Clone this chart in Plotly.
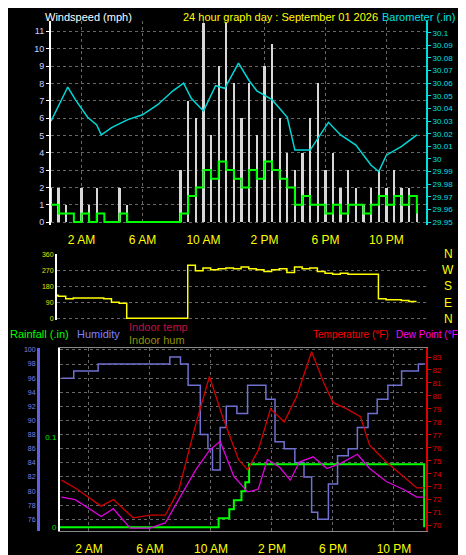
import plotly.graph_objects as go

W, H = 466, 555
def fx(p): return p / W
def fy(p): return 1 - p / H

hours = [i * 0.5 for i in range(49)]
gust = [2,2,1,0,2,1,2,0,0,2,1,0,0,0,0,0,0,3,7,6,11.5,5,9,11.5,8,6,8,5,9,10.3,6,4,3,4,6,8,3,4,2,3,2,1,2,3,2,3,2,2,1]
avg = [1,0.5,0.5,0,0.5,0,0.5,0,0,0.5,0,0,0,0,0,0,0,0.5,1.5,2,3,2.5,3.5,3,2.5,2,3,2.5,3.5,3,2.5,2,1,1.5,1,1,0.5,1,0.5,1,1,0.5,1,1.5,1,1.5,1,1.5,0.5]
direction = [130,125,110,115,115,115,115,110,90,85,0,0,0,0,0,0,0,0,300,270,285,275,280,285,280,290,280,275,265,275,280,260,290,280,285,265,255,250,255,250,250,250,250,110,105,105,100,95,95]

baro_h = [0,1.1,1.6,2.4,3,3.3,4,5,6,7,8,8.7,9.2,10,10.8,11.4,12.3,13,13.5,14.5,15.5,16,17,18.2,19,20,21,21.5,22,23,24]
baro_v = [30.03,30.057,30.047,30.033,30.027,30.019,30.025,30.031,30.035,30.043,30.054,30.06,30.048,30.038,30.058,30.056,30.076,30.062,30.054,30.047,30.033,30.007,30.007,30.029,30.019,30.011,29.995,29.99,30.003,30.01,30.019]

hum_h = [0.2,1,2.6,4,5.5,7.3,8.0,8.5,9.3,9.8,10.1,10.6,11,11.7,12.4,13,13.6,14.2,14.8,15.5,16.1,16.6,17,17.7,18.3,19,19.6,20.3,20.9,21.6,22.5,23.6,24.05]
hum_v = [96,97,98,98,98,99,98,95,88,86,83,89,92,91,95,95,93,87,86,84,82,77,76,81,85,86,89,91,93,95,97,98,98]

temp_h = [0.2,1.1,2.8,3.6,4.9,6,7,7.9,9,9.9,10.7,11.8,12.4,13.1,13.9,14.8,15.6,16.6,17.4,18,18.9,19.8,20.4,21.5,22.6,23.5,24.0]
temp_v = [73.5,72.9,71.5,72.0,70.6,70.8,70.8,72.8,77.8,81.5,78.6,75.1,74.3,75.8,79.0,78.0,79.9,83.4,81.0,79.5,79.0,78.4,76.2,74.9,73.8,72.9,72.9]

dew_h = [0.2,1.1,2.8,3.6,4.7,6,7,7.9,9,9.9,10.6,11.5,12.4,13.1,13.7,14.5,15.2,15.8,16.7,17.6,18.5,19.6,20.4,21.5,22.6,23.5,24.0]
dew_v = [72.2,72.0,70.7,71.3,69.8,69.8,70.2,72.0,74.3,75.8,76.5,73.8,72.6,72.8,75.1,74.5,73.5,74.9,75.3,74.4,74.8,75.5,74.4,73.4,72.8,72.2,72.2]

rain_h = [0.1,10.5,11.2,11.5,12.0,12.25,12.5,23.97,23.98]
rain_v = [0,0.01,0.02,0.03,0.04,0.05,0.07,0.07,0]

tickv = [2,6,10,14,18,22]
tickt = ['2 AM','6 AM','10 AM','2 PM','6 PM','10 PM']
compass = ['N','W','S','E','N']

FONT = 'Liberation Sans'
fig = go.Figure()
fig.add_trace(go.Bar(x=hours, y=gust, width=0.15, marker=dict(color='#d8d8d8', line_width=0), xaxis='x', yaxis='y'))
fig.add_trace(go.Scatter(x=hours, y=avg, mode='lines', line=dict(color='#00ff00', width=2), line_shape='hv', xaxis='x', yaxis='y'))
fig.add_trace(go.Scatter(x=baro_h, y=baro_v, mode='lines', line=dict(color='#00d8d8', width=1.5), xaxis='x', yaxis='y2'))
fig.add_trace(go.Scatter(x=hours, y=direction, mode='lines', line=dict(color='#ffff00', width=1.5), line_shape='hv', xaxis='x2', yaxis='y3'))
fig.add_trace(go.Scatter(x=rain_h, y=rain_v, mode='lines', line=dict(color='#00ff00', width=2), line_shape='hv', xaxis='x3', yaxis='y6'))
fig.add_trace(go.Scatter(x=hum_h, y=hum_v, mode='lines', line=dict(color='#7070d0', width=1.5), line_shape='hv', xaxis='x3', yaxis='y5'))
fig.add_trace(go.Scatter(x=temp_h, y=temp_v, mode='lines', line=dict(color='#d00000', width=1.3), xaxis='x3', yaxis='y7'))
fig.add_trace(go.Scatter(x=dew_h, y=dew_v, mode='lines', line=dict(color='#e000e0', width=1.3), xaxis='x3', yaxis='y7'))

grid = dict(showgrid=True, gridcolor='#666', griddash='dot', gridwidth=1, zeroline=False)
fig.update_layout(
    width=W, height=H, margin=dict(l=0, r=0, t=0, b=0),
    paper_bgcolor='black', plot_bgcolor='black', showlegend=False, bargap=0,
    font=dict(family=FONT, color='white'),
    xaxis=dict(domain=[fx(43), fx(418)], range=[0, 24.6], tickvals=tickv, ticktext=tickt,
               tickfont=dict(color='#ffff00', size=12), anchor='y', ticks='', ticklabelstandoff=6, **grid),
    yaxis=dict(domain=[fy(216), fy(10)], range=[-0.17, 11.6], dtick=1, tickfont=dict(color='#d0d0ff', size=9),
               showline=True, linecolor='white', linewidth=2, ticks='outside', ticklen=3, tickcolor='white', anchor='x', **grid),
    yaxis2=dict(overlaying='y', side='right', anchor='x', range=[29.9476, 30.1094], dtick=0.01,
                tickfont=dict(color='#00e0e0', size=8), showline=True, linecolor='#00e0e0', linewidth=2,
                ticks='outside', ticklen=3, tickcolor='#00e0e0', showgrid=False, tickformat='.2~f'),
    xaxis2=dict(domain=[fx(49), fx(418)], range=[0.43, 24.62], showticklabels=False, showgrid=False, anchor='y3', zeroline=False),
    yaxis3=dict(domain=[fy(312), fy(245)], range=[-11.25, 365.6], tickvals=[0,90,180,270,360],
                tickfont=dict(color='#e0e000', size=7), showline=True, linecolor='white', linewidth=2, anchor='x2', **grid),
    xaxis3=dict(domain=[fx(52), fx(418)], range=[0.1, 24.1], tickvals=tickv, ticktext=tickt,
                tickfont=dict(color='#ffff00', size=12), anchor='y6', ticks='', ticklabelstandoff=6,
                showline=True, linecolor='#888', mirror=True, **grid),
    yaxis5=dict(domain=[fy(525), fy(340)], range=[74.3, 100.28], dtick=2, anchor='free', position=fx(30),
                tickfont=dict(color='#8080e0', size=7), showline=True, linecolor='#6060e0', linewidth=3, **grid),
    yaxis6=dict(overlaying='y5', side='left', anchor='x3', range=[-0.0044, 0.199], tickvals=[0,0.1,0.2],
                tickfont=dict(color='#00e000', size=8), showline=True, linecolor='white', linewidth=2, showgrid=False, zeroline=False),
    yaxis7=dict(overlaying='y5', side='right', anchor='x3', range=[69.56, 83.7], dtick=1,
                tickfont=dict(color='#e00000', size=8), showline=True, linecolor='#e00000', linewidth=2,
                ticks='outside', ticklen=3, tickcolor='#e00000', showgrid=False),
)
ann = [
    (35, 6, 'Windspeed (mph)', 'white', 'left', 11),
    (173, 6, '24 hour graph day : September 01 2026', '#ffff00', 'left', 11),
    (372, 6, 'Barometer (.in)', '#00e0e0', 'left', 11),
    (0, 326, 'Rainfall (.in)', '#00ff00', 'left', 11),
    (67, 326, 'Humidity', '#8080ff', 'left', 11),
    (119, 319, 'Indoor temp', '#c01040', 'left', 11),
    (119, 332, 'Indoor hum', '#909000', 'left', 11),
    (383, 326, 'Temperature (°F)', '#ff0000', 'right', 10),
    (455, 326, 'Dew Point (°F)', '#ff00ff', 'right', 10),
]
for x, y, t, c, a, s in ann:
    fig.add_annotation(x=fx(x), y=fy(y), xref='paper', yref='paper', text=t, showarrow=False,
                       xanchor=a, yanchor='middle', font=dict(color=c, size=s, family=FONT))
for i, lab in enumerate(compass):
    fig.add_annotation(x=fx(440), y=fy(245 + i * 16.5), xref='paper', yref='paper', text=lab, showarrow=False,
                       xanchor='center', yanchor='middle', font=dict(color='#ffff00', size=12, family=FONT))
fig.write_html('out.html')
